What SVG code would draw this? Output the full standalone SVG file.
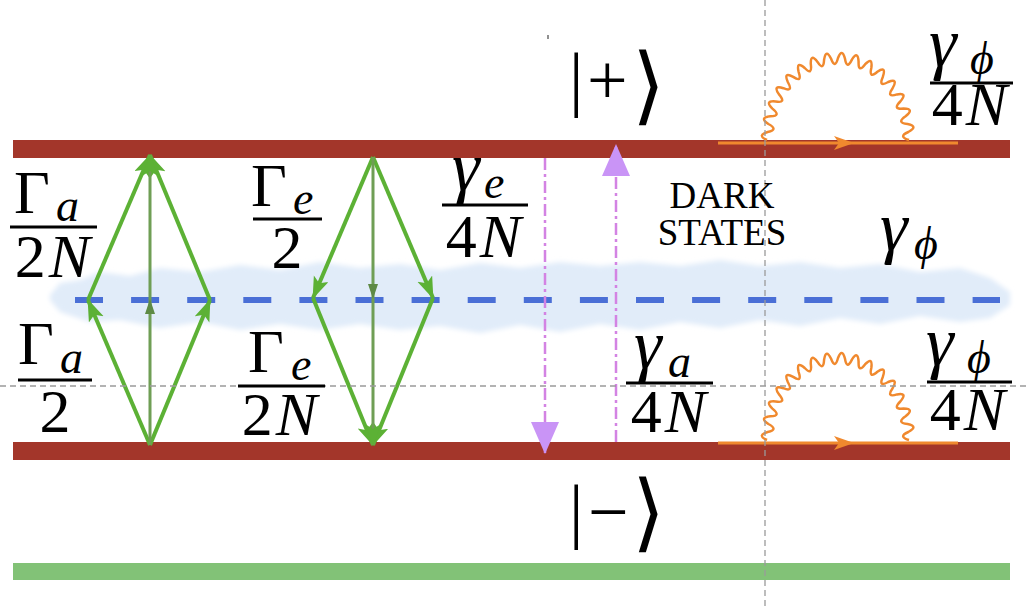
<svg xmlns="http://www.w3.org/2000/svg" width="1028" height="608" viewBox="0 0 1028 608">
<defs>
<filter id="blur" x="-5%" y="-50%" width="110%" height="200%"><feGaussianBlur stdDeviation="2.5"/></filter>
<marker id="ga" markerUnits="userSpaceOnUse" markerWidth="24" markerHeight="18" refX="21" refY="8" orient="auto"><path d="M0,0 L22,8 L0,16 L5,8 Z" fill="#5cb135"/></marker>
<marker id="gm" markerUnits="userSpaceOnUse" markerWidth="16" markerHeight="12" refX="14" refY="5" orient="auto"><path d="M0,0 L15,5 L0,10 Z" fill="#5e8a45"/></marker>
<marker id="pa" markerUnits="userSpaceOnUse" markerWidth="34" markerHeight="30" refX="31" refY="14" orient="auto"><path d="M0,0 L32,14 L0,28 Z" fill="#c994f6"/></marker>
<g id="loop">
<line x1="718" y1="143" x2="958" y2="143" stroke="#f0892e" stroke-width="3"/>
<path d="M834,136 L854,143 L834,150 L839,143 Z" fill="#f0892e"/>
<path stroke="#f0892e" stroke-width="2.5" fill="none" d="M767,140 Q756.36,135.46 767.7,132 Q778.93,129.61 768.4,124 Q758.73,117.48 770.4,116.3 Q781.76,116.16 772.4,108.6 Q764.11,100.35 775.7,101.5 Q786.78,103.61 779,94.4 Q772.36,84.75 783.4,88.2 Q793.75,92.49 787.8,82 Q783.11,71.3 793.2,76.9 Q802.45,83.19 798.6,71.8 Q795.99,60.47 804.7,68 Q812.45,76.04 810.8,64.2 Q810.44,52.69 817.5,61.9 Q823.47,71.42 824.1,59.6 Q825.99,48.32 831.1,58.8 Q835.09,69.39 838,58 Q842.04,47.41 845,58.8 Q846.84,70.08 851.9,59.6 Q857.92,50.08 858.6,61.9 Q858.19,73.41 865.2,64.2 Q872.95,56.16 871.3,68 Q868.69,79.33 877.4,71.8 Q886.65,65.51 882.8,76.9 Q878.11,87.6 888.2,82 Q898.55,77.71 892.6,88.2 Q885.96,97.85 897,94.4 Q908.08,92.29 900.3,101.5 Q892.01,109.75 903.6,108.6 Q914.96,108.74 905.6,116.3 Q895.93,122.82 907.6,124 Q918.83,126.39 908.3,132 Q897.66,136.54 909,140"/>
</g>
</defs>
<rect width="1028" height="608" fill="#fff"/>

<g id="cloud">
<path filter="url(#blur)" fill="#e1ecf9" d="M50,295 L60,283 L80,280 L100,272 L130,276 L160,268 L200,272 L240,265 L280,270 L320,262 L360,268 L400,264 L440,270 L480,263 L520,268 L560,262 L600,266 L640,262 L680,266 L720,260 L760,266 L800,262 L840,268 L880,264 L920,272 L960,268 L990,278 L1010,292 L1010,305 L990,318 L960,322 L920,316 L880,324 L840,318 L800,326 L760,320 L720,328 L680,322 L640,330 L600,324 L560,332 L520,325 L480,333 L440,326 L400,330 L360,324 L320,330 L280,324 L240,330 L200,322 L160,328 L120,320 L90,322 L60,312 L50,300 Z"/>
</g>

<g id="levels">
<rect id="plus-level" x="13" y="140" width="997" height="18" fill="#a3362a"/>
<rect id="minus-level" x="13" y="442" width="997" height="18" fill="#a3362a"/>
<rect id="ground-level" x="13" y="563" width="997" height="17" fill="#82c277"/>
<line id="dark-level" x1="75" y1="300" x2="1000" y2="300" stroke="#4a6fd6" stroke-width="6" stroke-dasharray="28 28.1"/>
</g>

<g id="loops">
<use href="#loop"/>
<use href="#loop" transform="translate(0,300)"/>
</g>

<g id="connectors">
<g stroke="#5cb135" stroke-width="4" fill="none" marker-end="url(#ga)">
<line x1="150" y1="445" x2="88" y2="300"/>
<line x1="150" y1="445" x2="210" y2="300"/>
<line x1="88" y1="300" x2="150" y2="155"/>
<line x1="210" y1="300" x2="150" y2="155"/>
<line x1="373" y1="157" x2="313" y2="298"/>
<line x1="373" y1="157" x2="433" y2="298"/>
<line x1="313" y1="298" x2="373" y2="445"/>
<line x1="433" y1="298" x2="373" y2="445"/>
</g>
<g stroke="#6f9e55" stroke-width="3" fill="none" marker-mid="url(#gm)" marker-end="url(#ga)">
<path d="M150,445 L150,300 L150,155"/>
<path d="M373,157 L373,298 L373,445"/>
</g>
<g stroke="#d383e3" stroke-width="2.5" stroke-dasharray="12 4 3 4" fill="none" marker-end="url(#pa)">
<line x1="545" y1="158" x2="545" y2="453"/>
<line x1="616" y1="442" x2="616" y2="145"/>
</g>
</g>

<g id="guides" stroke="#9a9a9a" stroke-width="1.3" stroke-dasharray="6 4" fill="none">
<line x1="765" y1="0" x2="765" y2="608"/>
<line x1="0" y1="386" x2="1028" y2="386"/>
<line x1="548" y1="35" x2="548" y2="39" stroke="#555" stroke-dasharray="none"/>
</g>

<g id="ket-plus">
<text x="569" y="103" style="font-family:'Liberation Serif',serif;font-size:72px">|</text>
<text x="587" y="104" style="font-family:'Liberation Serif',serif;font-size:72px">+</text>
<text x="632" y="114" style="font-family:'Noto Sans CJK JP',sans-serif;font-size:85px">⟩</text>
</g>
<g id="ket-minus">
<text x="569" y="535" style="font-family:'Liberation Serif',serif;font-size:72px">|</text>
<text x="588" y="536" style="font-family:'Liberation Serif',serif;font-size:72px">−</text>
<text x="632" y="541" style="font-family:'Noto Sans CJK JP',sans-serif;font-size:85px">⟩</text>
</g>

<g id="rate-Ga-2N">
<text x="14" y="213" style="font-family:'Liberation Serif',serif;font-size:62px">Γ</text>
<text x="56" y="221" style="font-family:'Liberation Serif',serif;font-size:46px;font-style:italic">a</text>
<line x1="10" y1="227" x2="97" y2="227" stroke="#000" stroke-width="3"/>
<text x="54" y="277" text-anchor="middle" style="font-family:'Liberation Serif',serif;font-size:62px;letter-spacing:3px">2<tspan style="font-style:italic">N</tspan></text>
</g>
<g id="rate-Ga-2">
<text x="18" y="364" style="font-family:'Liberation Serif',serif;font-size:62px">Γ</text>
<text x="60" y="373" style="font-family:'Liberation Serif',serif;font-size:46px;font-style:italic">a</text>
<line x1="18" y1="380" x2="92" y2="380" stroke="#000" stroke-width="3"/>
<text x="55" y="432" text-anchor="middle" style="font-family:'Liberation Serif',serif;font-size:62px">2</text>
</g>
<g id="rate-Ge-2">
<text x="251" y="206" style="font-family:'Liberation Serif',serif;font-size:62px">Γ</text>
<text x="293" y="214" style="font-family:'Liberation Serif',serif;font-size:46px;font-style:italic">e</text>
<line x1="253" y1="219" x2="322" y2="219" stroke="#000" stroke-width="3"/>
<text x="287" y="268" text-anchor="middle" style="font-family:'Liberation Serif',serif;font-size:62px">2</text>
</g>
<g id="rate-Ge-2N">
<text x="248" y="372" style="font-family:'Liberation Serif',serif;font-size:62px">Γ</text>
<text x="291" y="380" style="font-family:'Liberation Serif',serif;font-size:46px;font-style:italic">e</text>
<line x1="238" y1="386" x2="325" y2="386" stroke="#000" stroke-width="3"/>
<text x="281" y="435" text-anchor="middle" style="font-family:'Liberation Serif',serif;font-size:62px;letter-spacing:3px">2<tspan style="font-style:italic">N</tspan></text>
</g>
<g id="rate-ge-4N">
<text x="452" y="190" style="font-family:'Liberation Serif',serif;font-size:70px;font-style:italic">γ</text>
<text x="484" y="198" style="font-family:'Liberation Serif',serif;font-size:46px;font-style:italic">e</text>
<line x1="442" y1="205" x2="528" y2="205" stroke="#000" stroke-width="3"/>
<text x="485" y="257" text-anchor="middle" style="font-family:'Liberation Serif',serif;font-size:62px;letter-spacing:3px">4<tspan style="font-style:italic">N</tspan></text>
</g>
<g id="rate-ga-4N">
<text x="634" y="368" style="font-family:'Liberation Serif',serif;font-size:70px;font-style:italic">γ</text>
<text x="668" y="377" style="font-family:'Liberation Serif',serif;font-size:46px;font-style:italic">a</text>
<line x1="626" y1="383" x2="713" y2="383" stroke="#000" stroke-width="3"/>
<text x="670" y="432" text-anchor="middle" style="font-family:'Liberation Serif',serif;font-size:62px;letter-spacing:3px">4<tspan style="font-style:italic">N</tspan></text>
</g>
<g id="rate-gphi-top">
<text x="929" y="66" style="font-family:'Liberation Serif',serif;font-size:70px;font-style:italic">γ</text>
<text x="970" y="74" style="font-family:'Liberation Serif',serif;font-size:46px;font-style:italic">ϕ</text>
<line x1="930" y1="83" x2="1013" y2="83" stroke="#000" stroke-width="3"/>
<text x="971" y="125" text-anchor="middle" style="font-family:'Liberation Serif',serif;font-size:62px;letter-spacing:3px">4<tspan style="font-style:italic">N</tspan></text>
</g>
<g id="rate-gphi-bottom">
<text x="926" y="365" style="font-family:'Liberation Serif',serif;font-size:70px;font-style:italic">γ</text>
<text x="967" y="373" style="font-family:'Liberation Serif',serif;font-size:46px;font-style:italic">ϕ</text>
<line x1="927" y1="382" x2="1012" y2="382" stroke="#000" stroke-width="3"/>
<text x="969" y="430" text-anchor="middle" style="font-family:'Liberation Serif',serif;font-size:62px;letter-spacing:3px">4<tspan style="font-style:italic">N</tspan></text>
</g>
<g id="rate-gphi">
<text x="880" y="250" style="font-family:'Liberation Serif',serif;font-size:70px;font-style:italic">γ</text>
<text x="914" y="259" style="font-family:'Liberation Serif',serif;font-size:46px;font-style:italic">ϕ</text>
</g>
<g id="dark-states">
<text x="722" y="208" text-anchor="middle" style="font-family:'Liberation Serif',serif;font-size:37px">DARK</text>
<text x="722" y="245" text-anchor="middle" style="font-family:'Liberation Serif',serif;font-size:37px">STATES</text>
</g>
</svg>
